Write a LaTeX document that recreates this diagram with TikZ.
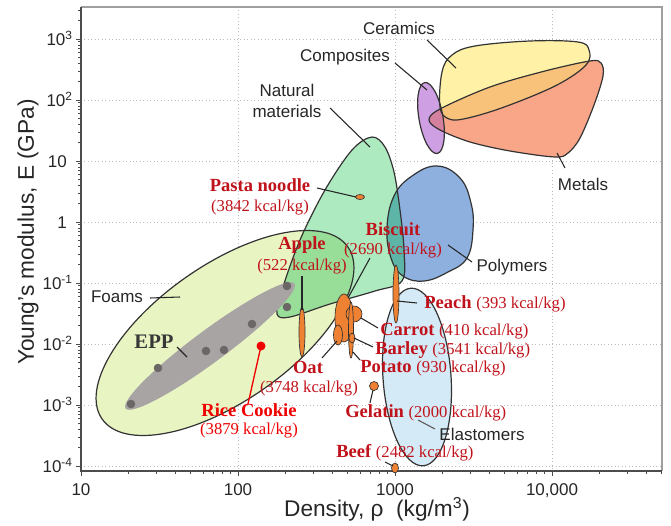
\documentclass[tikz,border=0pt]{standalone}
\usepackage{fontspec}
\setmainfont{Liberation Serif}
\setsansfont{Liberation Sans}
\definecolor{foamc}{HTML}{E9F4C3}
\definecolor{eppc}{HTML}{A8A4A4}
\definecolor{dotc}{HTML}{6B6767}
\definecolor{natc}{HTML}{AEEAC0}
\definecolor{appc}{HTML}{98DE98}
\definecolor{polc}{HTML}{8DB0DF}
\definecolor{tealc}{HTML}{5DB5A8}
\definecolor{elac}{HTML}{D4EAF6}
\definecolor{compc}{HTML}{CF9FE3}
\definecolor{cerc}{HTML}{FFF2A6}
\definecolor{metc}{HTML}{F8A588}
\definecolor{cmc}{HTML}{F9C27A}
\definecolor{pmc}{HTML}{D4809E}
\definecolor{foodred}{HTML}{C0121A}
\definecolor{ricered}{HTML}{F00000}
\definecolor{orangec}{HTML}{EF8232}
\definecolor{gridc}{HTML}{BBBBBB}
\definecolor{outc}{HTML}{333333}
\newcommand\catfont{\sffamily\fontsize{12.75}{13}\selectfont}
\newcommand\axfont{\sffamily\fontsize{17}{18}\selectfont}
\newcommand\tickfont{\sffamily\fontsize{12.75}{13}\selectfont}
\newcommand\foodnamefont{\rmfamily\bfseries\fontsize{13.9}{15}\selectfont}
\newcommand\kcalfont{\rmfamily\mdseries\fontsize{12.5}{14}\selectfont}
\tikzset{
  gridln/.style={gridc, dotted, line width=0.6pt},
  cat/.style={font=\catfont, text=black!85, inner sep=0pt},
  lead/.style={draw=black!85, line width=0.8pt},
  fname/.style={font=\foodnamefont, text=foodred, inner sep=0pt},
  fkcal/.style={font=\kcalfont, text=foodred, inner sep=0pt},
  foodmk/.style={fill=orangec, draw=black!80, line width=0.5pt},
  outl/.style={draw=outc, line width=0.9pt},
  ticklab/.style={font=\tickfont, text=black!85, inner sep=0pt},
}
\def\natP{plot[smooth cycle, tension=0.55] coordinates {(372,137) (385,147) (394,172) (400,210) (404,250) (402,281) (375,291) (330,304) (290,317) (277,314) (282,290) (300,240) (325,190) (352,150)}}
\def\polP{plot[smooth cycle, tension=0.7] coordinates {(437,166) (460,178) (471,203) (473,230) (467,258) (448,272) (424,281) (403,276) (391,258) (387,228) (394,196) (412,176)}}
\def\cerP{plot[smooth cycle, tension=0.6] coordinates {(442,72) (452,55) (475,46) (530,41) (578,42) (589,50) (586,65) (557,85) (507,106) (468,118) (449,119) (440,107)}}
\def\metP{plot[smooth cycle, tension=0.55] coordinates {(429,120) (440,109) (490,87) (545,71) (590,61) (601,63) (603,76) (594,105) (580,138) (568,153) (555,157) (510,151) (470,142) (440,130)}}
\begin{document}
\begin{tikzpicture}[x=0.75pt,y=-0.75pt]
\useasboundingbox (0,0) rectangle (671,525);
% grid
\foreach \gy in {39,100,161,222,283,344,405,466} \draw[gridln] (81,\gy) -- (662,\gy);
\foreach \gx in {238,395,552} \draw[gridln] (\gx,7) -- (\gx,471);
% fills
\fill[foamc, rotate around={35:(225,333)}] (225,333) ellipse [x radius=150, y radius=68];
\fill[natc] \natP;
\begin{scope}
  \clip[rotate around={35:(225,333)}] (225,333) ellipse [x radius=150, y radius=68];
  \fill[appc] \natP;
\end{scope}
\fill[polc] \polP;
\begin{scope}
  \clip \natP;
  \fill[tealc] \polP;
\end{scope}
\fill[elac, rotate around={4:(417,377)}] (417,377) ellipse [x radius=34, y radius=89];
\fill[metc] \metP;
\fill[cerc] \cerP;
\begin{scope}
  \clip \cerP;
  \fill[cmc] \metP;
\end{scope}
\fill[compc, rotate around={10:(431,118)}] (431,118) ellipse [x radius=12, y radius=36];
\begin{scope}
  \clip[rotate around={10:(431,118)}] (431,118) ellipse [x radius=12, y radius=36];
  \fill[pmc] \metP;
\end{scope}
% outlines
\draw[outl, rotate around={35:(225,333)}] (225,333) ellipse [x radius=150, y radius=68];
\draw[outl] \natP;
\draw[outl] \polP;
\draw[outl, rotate around={4:(417,377)}] (417,377) ellipse [x radius=34, y radius=89];
\draw[outl] \metP;
\draw[outl] \cerP;
\draw[outl, rotate around={10:(431,118)}] (431,118) ellipse [x radius=12, y radius=36];
% EPP
\fill[eppc, rotate around={36.5:(210,346)}] (210,346) ellipse [x radius=105, y radius=16];
\foreach \px/\py in {131/404,158/368,206/351,224/350,252/324,287/286,287/307}
  \fill[dotc] (\px,\py) circle [radius=4.3];
% axes frame
\draw[gray!75, line width=1.1pt] (81,7) -- (662,7) -- (662,471);
\draw[black!70, line width=0.9pt] (81,7) -- (81,471) -- (662,471);
\foreach \k in {-4,...,2} \foreach \m in {2,...,9}
  \draw[black!70, line width=0.5pt] (81,{222-61*(\k+log10(\m))}) -- ++(-3,0);
\foreach \m in {2,3}
  \draw[black!70, line width=0.5pt] (81,{39-61*log10(\m)}) -- ++(-3,0);
\foreach \gy in {39,100,161,222,283,344,405,466} \draw[black!70, line width=0.6pt] (81,\gy) -- ++(-5,0);
\foreach \k in {0,1,2} \foreach \m in {2,...,9}
  \draw[black!70, line width=0.5pt] ({81+157*(\k+log10(\m))},471) -- ++(0,3);
\foreach \m in {2,...,5}
  \draw[black!70, line width=0.5pt] ({552+157*log10(\m)},471) -- ++(0,3);
\foreach \gx in {81,238,395,552} \draw[black!70, line width=0.6pt] (\gx,471) -- ++(0,5);
% tick labels
\node[ticklab, anchor=base east] (y3) at (73,45) {10\textsuperscript{3}};
\node[ticklab, anchor=base east] (y2) at (73,106) {10\textsuperscript{2}};
\node[ticklab, anchor=base east] (y1) at (67,167) {10};
\node[ticklab, anchor=base east] (y0) at (67,228) {1};
\node[ticklab, anchor=base east] (ym1) at (73,289) {10\textsuperscript{-1}};
\node[ticklab, anchor=base east] (ym2) at (73,350) {10\textsuperscript{-2}};
\node[ticklab, anchor=base east] (ym3) at (73,411) {10\textsuperscript{-3}};
\node[ticklab, anchor=base east] (ym4) at (73,472) {10\textsuperscript{-4}};
\node[ticklab, anchor=base] (x1) at (81,495) {10};
\node[ticklab, anchor=base] (x2) at (238,495) {100};
\node[ticklab, anchor=base] (x3) at (395,495) {1000};
\node[ticklab, anchor=base] (x4) at (552,495) {10,000};
% axis titles
\node[font=\axfont, text=black!85, inner sep=0pt] (xlab) at (377,509) {Density, ρ~~(kg/m\textsuperscript{3})};
\node[font=\axfont, text=black!85, inner sep=0pt, rotate=90] (ylab) at (28,232) {Young's modulus, E (GPa)};
% category labels
\node[cat] (ceram) at (399,28) {Ceramics};
\coordinate (ceramA) at (427,40); \coordinate (ceramB) at (456,68);
\draw[lead] (ceramA) -- (ceramB);
\node[cat] (compo) at (345,57) {Composites};
\coordinate (compoA) at (395,63); \coordinate (compoB) at (427,90);
\draw[lead] (compoA) -- (compoB);
\node[cat, align=center, font=\sffamily\fontsize{12.75}{16}\selectfont] (natur) at (287,101) {Natural\\materials};
\coordinate (naturA) at (330,108); \coordinate (naturB) at (370,147);
\draw[lead] (naturA) -- (naturB);
\node[cat] (metal) at (583,184) {Metals};
\coordinate (metalA) at (557,153); \coordinate (metalB) at (565,168);
\draw[lead] (metalA) -- (metalB);
\node[cat] (polym) at (512,267) {Polymers};
\coordinate (polymA) at (448,245); \coordinate (polymB) at (472,262);
\draw[lead] (polymA) -- (polymB);
\node[cat] (foams) at (117,297) {Foams};
\coordinate (foamsA) at (150,298); \coordinate (foamsB) at (180,297);
\draw[lead] (foamsA) -- (foamsB);
\node[cat] (elast) at (482,434) {Elastomers};
\coordinate (elastA) at (418,420); \coordinate (elastB) at (435,429);
\draw[lead, draw=black!65] (elastA) -- (elastB);
\node[font=\rmfamily\bfseries\fontsize{15.5}{16}\selectfont, text=black!78, inner sep=0pt] (epp) at (154,342) {EPP};
\coordinate (eppA) at (177,347); \coordinate (eppB) at (187,357);
\draw[lead] (eppA) -- (eppB);
% food markers
\coordinate (pastaM) at (360,197);
\draw[foodmk] (pastaM) ellipse [x radius=4.5, y radius=2.5];
\coordinate (appleM) at (302,332);
\draw[foodmk] (appleM) ellipse [x radius=3, y radius=25];
\coordinate (peachM) at (396,294);
\draw[foodmk] (peachM) ellipse [x radius=3, y radius=29];
\coordinate (oatM) at (344,318);
\draw[foodmk] (oatM) ellipse [x radius=9, y radius=24];
\coordinate (oatS) at (338,335);
\draw[foodmk] (oatS) ellipse [x radius=4.5, y radius=10];
\coordinate (carrotM) at (354,314);
\draw[foodmk] (carrotM) circle [radius=8];
\coordinate (potatoM) at (351,330);
\draw[foodmk] (potatoM) ellipse [x radius=2.5, y radius=28];
\coordinate (barleyM) at (352,338);
\draw[foodmk] (barleyM) ellipse [x radius=3, y radius=5];
\coordinate (gelM) at (374,386);
\draw[foodmk] (gelM) circle [radius=4.5];
\coordinate (beefM) at (395,468);
\draw[foodmk] (beefM) ellipse [x radius=3.5, y radius=5];
% food labels and leaders
\node[fname] (pasta) at (260,185) {Pasta noodle};
\node[fkcal] (pastak) at (260,208) {(3842 kcal/kg)};
\coordinate (pastaA) at (317,188); \coordinate (pastaB) at (356,197);
\draw[lead] (pastaA) -- (pastaB);
\node[fname] (apple) at (302,245) {Apple};
\node[fkcal] (applek) at (302,267) {(522 kcal/kg)};
\coordinate (appleA) at (302,276); \coordinate (appleB) at (302,310);
\draw[lead] (appleA) -- (appleB);
\node[fname] (bisc) at (393,229) {Biscuit};
\node[fkcal] (bisck) at (393,251) {(2690 kcal/kg)};
\coordinate (biscA) at (370,258); \coordinate (biscB) at (348,298);
\draw[lead] (biscA) -- (biscB);
\node[fname, anchor=west] (peach) at (424,304) {Peach {\kcalfont (393 kcal/kg)}};
\coordinate (peachA) at (397,301); \coordinate (peachB) at (417,303);
\draw[lead] (peachA) -- (peachB);
\node[fname, anchor=west] (carrot) at (380,331) {Carrot {\kcalfont (410 kcal/kg)}};
\coordinate (carrotA) at (361,318); \coordinate (carrotB) at (378,328);
\draw[lead] (carrotA) -- (carrotB);
\node[fname, anchor=west] (barley) at (375,350) {Barley {\kcalfont (3541 kcal/kg)}};
\coordinate (barleyA) at (354,338); \coordinate (barleyB) at (373,347);
\draw[lead] (barleyA) -- (barleyB);
\node[fname, anchor=west] (potato) at (360,368) {Potato {\kcalfont (930 kcal/kg)}};
\coordinate (potatoA) at (353,352); \coordinate (potatoB) at (360,360);
\draw[lead] (potatoA) -- (potatoB);
\node[fname] (oat) at (308,367) {Oat};
\node[fkcal] (oatk) at (309,389) {(3748 kcal/kg)};
\coordinate (oatA) at (322,358); \coordinate (oatB) at (337,341);
\draw[lead] (oatA) -- (oatB);
\node[fname, anchor=west] (gel) at (345,413) {Gelatin {\kcalfont (2000 kcal/kg)}};
\coordinate (gelA) at (370,403); \coordinate (gelB) at (373,390);
\draw[lead] (gelA) -- (gelB);
\node[fname, anchor=west] (beef) at (336,453) {Beef {\kcalfont (2482 kcal/kg)}};
\coordinate (beefA) at (385,462); \coordinate (beefB) at (393,466);
\draw[lead] (beefA) -- (beefB);
% rice cookie
\coordinate (riceM) at (261,346);
\coordinate (riceA) at (248,404);
\draw[ricered, line width=1pt] (riceA) -- (riceM);
\fill[ricered] (riceM) circle [radius=4.5];
\node[fname, text=ricered] (rice) at (249,410) {Rice Cookie};
\node[fkcal, text=ricered] (ricek) at (249,431) {(3879 kcal/kg)};
\end{tikzpicture}
\end{document}
